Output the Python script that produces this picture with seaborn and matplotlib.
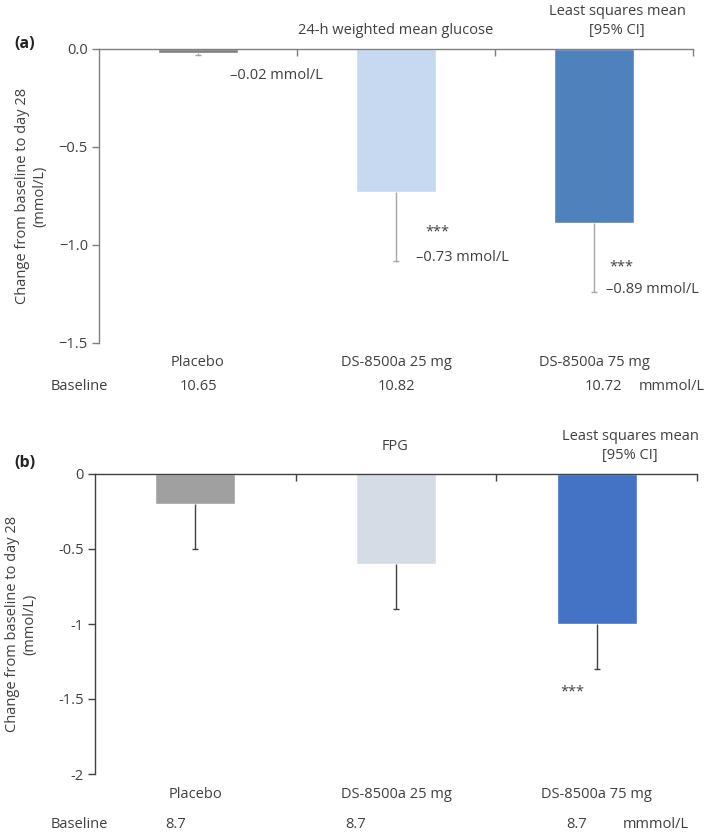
import matplotlib
matplotlib.use("Agg")
import matplotlib.pyplot as plt
import matplotlib.transforms as mtrans
import seaborn as sns
import pandas as pd

groups = ["Placebo", "DS-8500a 25 mg", "DS-8500a 75 mg"]

a_values = [-0.02, -0.73, -0.89]
a_lower = [-0.03, -1.08, -1.24]
a_colors = ["#7f7f7f", "#c6d9f0", "#4f81bd"]
a_baseline = ["10.65", "10.82", "10.72"]
a_labels = ["\u20130.02 mmol/L", "\u20130.73 mmol/L", "\u20130.89 mmol/L"]
a_yticks = [0.0, -0.5, -1.0, -1.5]
a_yticklabels = ["0.0", "\u22120.5", "\u22121.0", "\u22121.5"]

b_values = [-0.2, -0.6, -1.0]
b_lower = [-0.5, -0.9, -1.3]
b_colors = ["#a0a0a0", "#d6dce5", "#4472c4"]
b_baseline = ["8.7", "8.7", "8.7"]
b_yticks = [0, -0.5, -1, -1.5, -2]
b_yticklabels = ["0", "-0.5", "-1", "-1.5", "-2"]

sns.set_theme(style="white")
plt.rcParams["font.family"] = ["Open Sans", "DejaVu Sans"]
TXT = "#404040"
FS = 10.5

fig = plt.figure(figsize=(7.09, 8.35), dpi=100)
ax_a = fig.add_axes([99/709, 1-343/835, (693-99)/709, (343-49)/835])
ax_b = fig.add_axes([95/709, 1-774/835, (697-95)/709, (774-474)/835])


def draw(ax, values, lower, colors, ylim, yticks, yticklabels, spine_col, err_col, labelpad):
    df = pd.DataFrame({"group": groups, "value": values})
    sns.barplot(data=df, x="group", y="value", hue="group", palette=colors,
                width=0.4, legend=False, ax=ax, saturation=1)
    for i, (v, lo) in enumerate(zip(values, lower)):
        _, caps, _ = ax.errorbar(i, v, yerr=[[v - lo], [0]], fmt="none", ecolor=err_col,
                                 elinewidth=1.0, capsize=2, capthick=1.0)
        if len(caps) > 1:
            caps[1].set_visible(False)
    ax.set_xlim(-0.5, 2.5)
    ax.set_ylim(*ylim)
    ax.set_yticks(yticks)
    ax.set_yticklabels(yticklabels, fontsize=FS, color=TXT)
    ax.set_xlabel("")
    ax.set_ylabel("Change from baseline to day 28\n(mmol/L)", fontsize=FS, color=TXT,
                  labelpad=labelpad)
    ax.xaxis.tick_top()
    ax.set_xticks([0.5, 1.5, 2.5])
    ax.set_xticklabels([])
    ax.tick_params(axis="x", direction="in", length=5, color=spine_col, width=1)
    ax.tick_params(axis="y", direction="out", length=5, color=spine_col, width=1, left=True, pad=3)
    for s in ["bottom", "right"]:
        ax.spines[s].set_visible(False)
    for s in ["top", "left"]:
        ax.spines[s].set_color(spine_col)
        ax.spines[s].set_linewidth(1.0)
    ax.set_facecolor("white")


draw(ax_a, a_values, a_lower, a_colors, (-1.5, 0), a_yticks, a_yticklabels, "#7f7f7f", "#a6a6a6", 8)
draw(ax_b, b_values, b_lower, b_colors, (-2, 0), b_yticks, b_yticklabels, "#404040", "#404040", 15)

# Panel (a) annotations
fig.text(14/709, 1-44/835, "(a)", fontsize=11.5, fontweight="bold", color="#222222", va="center")
fig.text(396/709, 1-31/835, "24-h weighted mean glucose", fontsize=FS, color=TXT, ha="center", va="center")
fig.text(617/709, 1-21/835, "Least squares mean\n[95% CI]", fontsize=FS, color=TXT, ha="center",
         va="center", linespacing=1.3)
ax_a.annotate(a_labels[0], xy=(0, a_values[0]), xytext=(23, -16), textcoords="offset points",
              fontsize=FS, color=TXT, ha="left", va="center")
ax_a.text(1.21, -0.935, "***", fontsize=FS, color=TXT, ha="center", va="center")
ax_a.text(1.1, -1.065, a_labels[1], fontsize=FS, color=TXT, ha="left", va="center")
ax_a.text(2.14, -1.11, "***", fontsize=FS, color=TXT, ha="center", va="center")
ax_a.text(2.06, -1.225, a_labels[2], fontsize=FS, color=TXT, ha="left", va="center")

tr_a = mtrans.blended_transform_factory(ax_a.transData, fig.transFigure)
for i, g in enumerate(groups):
    ax_a.text(i, 1-363/835, g, transform=tr_a, fontsize=FS, color=TXT, ha="center", va="center")
fig.text(79/709, 1-387/835, "Baseline", fontsize=FS, color=TXT, ha="center", va="center")
for i, bval in enumerate(a_baseline):
    xoff = 0.05 if i == 2 else 0.0
    ax_a.text(i + xoff, 1-387/835, bval, transform=tr_a, fontsize=FS, color=TXT, ha="center", va="center")
fig.text(639/709, 1-387/835, "mmmol/L", fontsize=FS, color=TXT, ha="left", va="center")

# Panel (b) annotations
fig.text(14/709, 1-463/835, "(b)", fontsize=11.5, fontweight="bold", color="#222222", va="center")
fig.text(395/709, 1-446/835, "FPG", fontsize=FS, color=TXT, ha="center", va="center")
fig.text(630/709, 1-446/835, "Least squares mean\n[95% CI]", fontsize=FS, color=TXT, ha="center",
         va="center", linespacing=1.3)
ax_b.text(1.88, -1.45, "***", fontsize=FS, color=TXT, ha="center", va="center")

tr_b = mtrans.blended_transform_factory(ax_b.transData, fig.transFigure)
for i, g in enumerate(groups):
    ax_b.text(i, 1-795/835, g, transform=tr_b, fontsize=FS, color=TXT, ha="center", va="center")
fig.text(79/709, 1-825/835, "Baseline", fontsize=FS, color=TXT, ha="center", va="center")
b_xpos = [-0.1, -0.2, -0.1]
for i, bval in enumerate(b_baseline):
    ax_b.text(i + b_xpos[i], 1-825/835, bval, transform=tr_b, fontsize=FS, color=TXT,
              ha="center", va="center")
fig.text(623/709, 1-825/835, "mmmol/L", fontsize=FS, color=TXT, ha="left", va="center")

fig.savefig("out.png", dpi=100, facecolor="white")
